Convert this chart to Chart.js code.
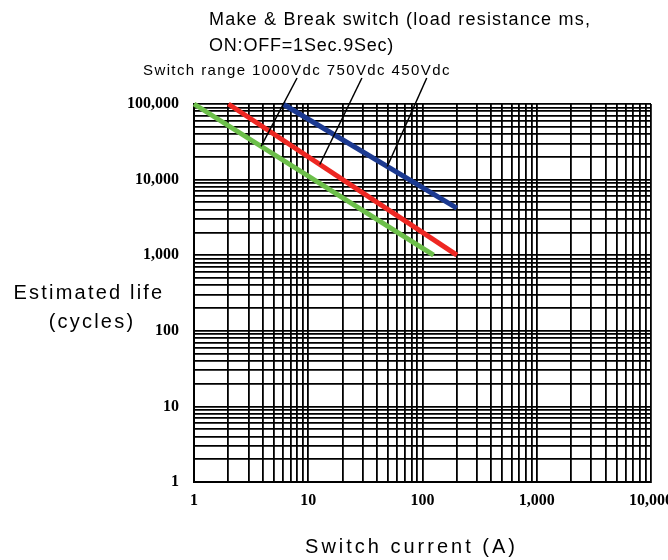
<!DOCTYPE html>
<html>
<head>
<meta charset="utf-8">
<title>Switch current vs estimated life</title>
<script src="https://cdn.jsdelivr.net/npm/chart.js@4.4.1/dist/chart.umd.min.js"></script>
<style>
  html, body { margin: 0; padding: 0; background: #fff; }
  #lifeChart { display: block; }
</style>
</head>
<body>
<canvas id="lifeChart" width="668" height="560"></canvas>
<script>
// switch range lines (one per voltage)
const seriesNames = ["1000Vdc", "750Vdc", "450Vdc"];
const seriesColors = ["#6cbf4a", "#ee2722", "#1b3990"];
const currentStart = [1, 2, 6];
const currentEnd = [125, 200, 200];
const lifeStart = [100000, 100000, 100000];
const lifeEnd = [1000, 1000, 4200];

// log-log grid
const xDecades = [1, 10, 100, 1000, 10000];
const xTickLabels = ["1", "10", "100", "1,000", "10,000"];
const yDecades = [1, 10, 100, 1000, 10000, 100000];
const yTickLabels = ["1", "10", "100", "1,000", "10,000", "100,000"];
const mantissas = [1, 2, 3, 4, 5, 6, 7, 8, 9];

// where the pointer line touches each series (0 = start, 1 = end)
const leaderAt = [0.28, 0.4, 0.6];

const titleLines = ["Make & Break switch (load resistance ms,", "ON:OFF=1Sec.9Sec)"];
const rangeLabel = "Switch range";
const yTitleLines = ["Estimated life", "(cycles)"];
const xTitle = "Switch current (A)";

const SANS = "'Liberation Sans', Arial, sans-serif";

function logTicks(decades) {
  const ticks = [];
  decades.slice(0, -1).forEach(d => {
    mantissas.forEach(m => ticks.push({ value: m * d }));
  });
  ticks.push({ value: decades[decades.length - 1] });
  return ticks;
}

function tickText(decades, labels) {
  return value => {
    const i = decades.indexOf(value);
    return i >= 0 ? labels[i] : "";
  };
}

// titles, axis titles and pointer lines
const annotations = {
  id: "annotations",
  afterDraw(chart) {
    const { ctx, chartArea } = chart;
    ctx.save();
    ctx.fillStyle = "#000";
    ctx.strokeStyle = "#000";
    ctx.textBaseline = "middle";
    ctx.textAlign = "left";

    ctx.font = "18px " + SANS;
    ctx.letterSpacing = "1.2px";
    ctx.fillText(titleLines[0], chartArea.left + 15, 20);
    ctx.letterSpacing = "0.8px";
    ctx.fillText(titleLines[1], chartArea.left + 15, 46);

    ctx.font = "15px " + SANS;
    ctx.letterSpacing = "1.4px";
    const ly = 71;
    let lx = chartArea.left - 51;
    ctx.fillText(rangeLabel, lx, ly);
    lx += ctx.measureText(rangeLabel + " ").width;
    seriesNames.forEach((name, i) => {
      ctx.fillText(name, lx, ly);
      const topX = lx + ctx.measureText(name.replace("Vdc", "")).width + 6;
      const pts = chart.getDatasetMeta(i).data;
      const ax = pts[0].x + leaderAt[i] * (pts[1].x - pts[0].x);
      const ay = pts[0].y + leaderAt[i] * (pts[1].y - pts[0].y);
      ctx.beginPath();
      ctx.moveTo(topX, ly + 7);
      ctx.lineTo(ax, ay);
      ctx.lineWidth = 1.5;
      ctx.stroke();
      lx += ctx.measureText(name + " ").width;
    });

    ctx.textAlign = "center";
    ctx.font = "20px " + SANS;
    ctx.letterSpacing = "2.2px";
    ctx.fillText(yTitleLines[0], 89, 293);
    ctx.fillText(yTitleLines[1], 92, 322);

    ctx.letterSpacing = "3px";
    ctx.fillText(xTitle, (chartArea.left + chartArea.right) / 2 - 11, 547);
    ctx.restore();
  }
};

const gridStyle = { color: "#000", lineWidth: 1.8, drawTicks: false };
const tickFont = { family: "'Liberation Serif', 'Times New Roman', serif", weight: "bold", size: 16 };

new Chart(document.getElementById("lifeChart"), {
  type: "line",
  data: {
    datasets: seriesNames.map((name, i) => ({
      label: name,
      data: [
        { x: currentStart[i], y: lifeStart[i] },
        { x: currentEnd[i], y: lifeEnd[i] }
      ],
      borderColor: seriesColors[i],
      borderWidth: 5,
      borderCapStyle: "butt",
      pointRadius: 0,
      tension: 0,
      clip: false
    }))
  },
  options: {
    responsive: false,
    animation: false,
    events: [],
    layout: { padding: { top: 104, right: 17, bottom: 0, left: 0 } },
    plugins: {
      legend: { display: false },
      tooltip: { enabled: false }
    },
    scales: {
      x: {
        type: "logarithmic",
        min: 1,
        max: 10000,
        afterBuildTicks: axis => { axis.ticks = logTicks(xDecades); },
        afterFit: axis => {
          axis.height = 78;
          axis.paddingLeft = 0;
          axis.paddingRight = 0;
        },
        grid: gridStyle,
        border: { color: "#000", width: 2 },
        ticks: {
          autoSkip: false,
          maxRotation: 0,
          minRotation: 0,
          padding: 9,
          color: "#000",
          font: tickFont,
          callback: tickText(xDecades, xTickLabels)
        }
      },
      y: {
        type: "logarithmic",
        min: 1,
        max: 100000,
        afterBuildTicks: axis => { axis.ticks = logTicks(yDecades); },
        afterFit: axis => {
          axis.width = 194;
          axis.paddingTop = 0;
          axis.paddingBottom = 0;
        },
        grid: gridStyle,
        border: { color: "#000", width: 2 },
        ticks: {
          autoSkip: false,
          padding: 15,
          color: "#000",
          font: tickFont,
          callback: tickText(yDecades, yTickLabels)
        }
      }
    }
  },
  plugins: [annotations]
});
</script>
</body>
</html>
